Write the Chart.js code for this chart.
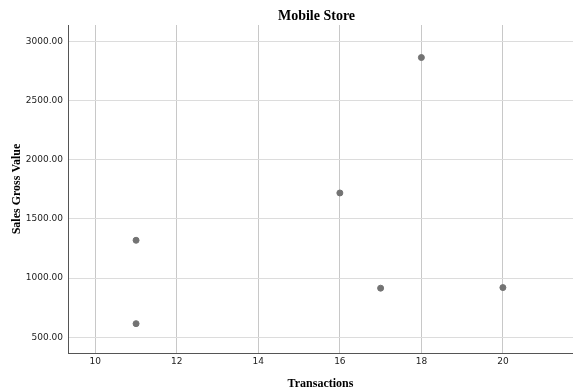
<!DOCTYPE html>
<html>
<head>
<meta charset="utf-8">
<script src="https://cdn.jsdelivr.net/npm/chart.js@4/dist/chart.umd.min.js"></script>
<style>
  html, body { margin: 0; padding: 0; background: #fff; }
  #wrap { width: 573px; height: 391px; }
</style>
</head>
<body>
<div id="wrap"><canvas id="chart"></canvas></div>
<script>
// data
var transactions = [11, 11, 16, 17, 18, 20];
var salesGross = [1320, 615, 1720, 915, 2865, 920];
var xTicks = [10, 12, 14, 16, 18, 20];
var yTicks = [500, 1000, 1500, 2000, 2500, 3000];

var points = [];
for (var i = 0; i < transactions.length; i++) {
  points.push({ x: transactions[i], y: salesGross[i] });
}

// title centred over the plot area, like the original
var titlePlugin = {
  id: 'areaTitle',
  afterDraw: function (chart) {
    var ctx = chart.ctx;
    var a = chart.chartArea;
    ctx.save();
    ctx.font = 'bold 14px "Liberation Serif"';
    ctx.fillStyle = '#000';
    ctx.textAlign = 'center';
    ctx.textBaseline = 'middle';
    ctx.fillText('Mobile Store', (a.left + a.right) / 2 - 4, 16);
    ctx.restore();
  }
};

new Chart(document.getElementById('chart'), {
  type: 'scatter',
  data: {
    datasets: [{
      label: 'Sales',
      data: points,
      backgroundColor: '#737373',
      borderColor: '#737373',
      pointRadius: 3,
      pointHoverRadius: 3
    }]
  },
  plugins: [titlePlugin],
  options: {
    responsive: true,
    maintainAspectRatio: false,
    animation: false,
    layout: { autoPadding: false, padding: { top: 25, right: 0, left: 0, bottom: 0 } },
    plugins: {
      legend: { display: false },
      tooltip: { enabled: false }
    },
    scales: {
      x: {
        type: 'linear',
        min: 9.33,
        max: 21.72,
        afterBuildTicks: function (scale) {
          scale.ticks = xTicks.map(function (v) { return { value: v }; });
        },
        afterFit: function (scale) {
          scale.height = 38;
          scale.paddingLeft = 0;
          scale.paddingRight = 0;
        },
        grid: { color: '#c8c8c8', drawTicks: false },
        border: { color: '#555', width: 1 },
        ticks: {
          font: { family: 'DejaVu Sans', size: 9 },
          color: '#222',
          padding: 3,
          maxRotation: 0,
          callback: function (v) { return v; }
        },
        title: {
          display: true,
          text: 'Transactions',
          font: { family: 'Liberation Serif', size: 12, weight: 'bold' },
          color: '#000',
          padding: { top: 0, bottom: 0 }
        }
      },
      y: {
        min: 367,
        max: 3140,
        afterBuildTicks: function (scale) {
          scale.ticks = yTicks.map(function (v) { return { value: v }; });
        },
        afterFit: function (scale) {
          scale.width = 68;
          scale.paddingTop = 0;
          scale.paddingBottom = 0;
        },
        grid: { color: '#dcdcdc', drawTicks: false },
        border: { color: '#555', width: 1 },
        ticks: {
          font: { family: 'DejaVu Sans', size: 9 },
          color: '#222',
          padding: 5,
          callback: function (v) { return Number(v).toFixed(2); }
        },
        title: {
          display: true,
          text: 'Sales Gross Value',
          font: { family: 'Liberation Serif', size: 12, weight: 'bold' },
          color: '#000',
          padding: { top: 10, bottom: 0 }
        }
      }
    }
  }
});
</script>
</body>
</html>
